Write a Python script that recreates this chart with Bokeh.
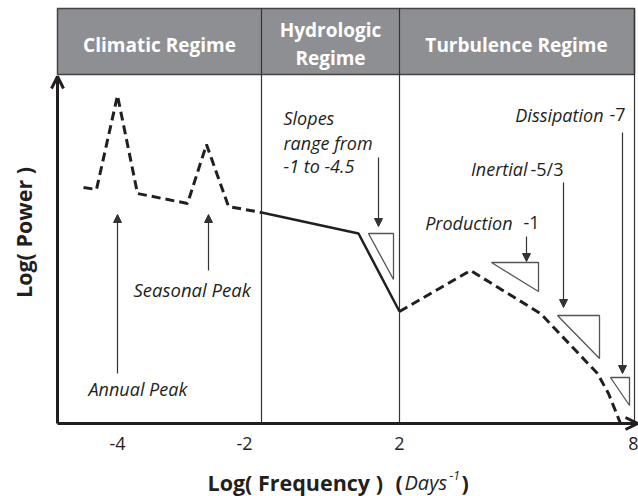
from math import pi
from bokeh.plotting import figure
from bokeh.models import Range1d, FixedTicker, Label, Arrow, OpenHead, NormalHead
from bokeh.embed import file_html
from bokeh.resources import INLINE

# Schematic coordinates: x = position along the log-frequency axis, y = log power above the axis
tick_pos = [60, 187, 342, 576]
tick_labels = ["-4", "-2", "2", "8"]

divider_x = [204, 342, 577]
top_y = 415
header_bottom = 349

regime_names = ["Climatic Regime", "Hydrologic", "Regime", "Turbulence Regime"]
regime_x = [102, 273, 273, 459]
regime_y = [379, 394, 366, 379]

climatic_x = [26, 39, 60, 80, 130, 149, 171, 204]
climatic_y = [236, 234, 328, 230, 220, 279, 217, 211]
hydro_x = [204, 301, 342]
hydro_y = [211, 190, 112]
turb_x = [342, 413, 483, 540, 551, 563]
turb_y = [112, 153, 110, 50, 30, 0]

tri_x = [[311, 336, 336], [434, 481, 481], [500, 542, 542], [553, 572, 572]]
tri_y = [[190, 190, 144], [161, 161, 132], [108, 108, 65], [46, 46, 18]]

# annotation arrows: x, y_start, y_end
ann_x = [60, 151, 321, 469, 506, 565]
ann_y0 = [50, 153, 266, 187, 241, 291]
ann_y1 = [209, 209, 197, 162, 116, 50]

INK = "#231f20"
FONT = "Open Sans"

p = figure(width=638, height=496, output_backend="svg", toolbar_location=None,
           x_range=Range1d(-57, 581), y_range=Range1d(-73, 423),
           min_border_left=0, min_border_right=0, min_border_top=0, min_border_bottom=0)
p.outline_line_color = None
p.grid.visible = False
p.yaxis.visible = False
p.background_fill_color = "white"

xa = p.xaxis[0]
xa.fixed_location = 0
xa.ticker = FixedTicker(ticks=tick_pos)
xa.major_label_overrides = {t: l for t, l in zip(tick_pos, tick_labels)}
xa.axis_line_color = None
xa.major_tick_line_color = None
xa.minor_tick_line_color = None
xa.major_label_standoff = 7
xa.major_label_text_font = FONT
xa.major_label_text_font_size = "18px"
xa.major_label_text_color = INK

# header band
p.quad(left=[0], right=[divider_x[-1]], top=[top_y], bottom=[header_bottom],
       fill_color="#8e8f92", line_color="#444444", line_width=1.5)

# dividers and right border
p.segment(x0=divider_x, y0=[0] * 3, x1=divider_x, y1=[top_y] * 3, line_color="#333333", line_width=1.2)

for name, x, y in zip(regime_names, regime_x, regime_y):
    p.add_layout(Label(x=x, y=y, text=name, text_font=FONT, text_font_style="bold",
                       text_font_size="19px", text_color="white", text_align="center",
                       text_baseline="middle"))

# spectrum curve
p.line(climatic_x, climatic_y, line_color=INK, line_width=3, line_dash="9 5")
p.line(hydro_x, hydro_y, line_color=INK, line_width=2.5)
p.line(turb_x, turb_y, line_color=INK, line_width=3, line_dash="9 5")

# slope triangles
p.patches(tri_x, tri_y, fill_color=None, line_color="#555555", line_width=1.3)

# annotation arrows
for x, y0, y1 in zip(ann_x, ann_y0, ann_y1):
    p.add_layout(Arrow(x_start=x, y_start=y0, x_end=x, y_end=y1, line_color="#333333", line_width=1.2,
                       end=NormalHead(size=8, fill_color="#333333", line_color="#333333")))

# axes arrows
p.add_layout(Arrow(x_start=0, y_start=0, x_end=580, y_end=0, line_color=INK, line_width=3,
                   end=OpenHead(size=12, line_color=INK, line_width=3)))
p.add_layout(Arrow(x_start=0, y_start=0, x_end=0, y_end=347, line_color=INK, line_width=3,
                   end=OpenHead(size=12, line_color=INK, line_width=3)))

def lab(x, y, text, style="italic", size="18px", align="left", baseline="middle", angle=0.0):
    p.add_layout(Label(x=x, y=y, text=text, text_font=FONT, text_font_style=style,
                       text_font_size=size, text_color=INK, text_align=align,
                       text_baseline=baseline, angle=angle))

lab(31, 35, "Annual Peak")
lab(76, 134, "Seasonal Peak", size="18.5px")
lab(226, 306, "Slopes")
lab(226, 281, "range from")
lab(226, 258, "-1 to -4.5")
lab(455, 201, "Production", align="right")
lab(466, 201, "-1", style="normal")
lab(470, 255, "Inertial", align="right")
lab(473, 255, "-5/3", style="normal")
lab(546, 309, "Dissipation", align="right")
lab(552, 309, "-7", style="normal")

# axis titles
lab(-34, 191, "Log( Power )", style="bold", size="21.5px", align="center", angle=pi / 2)
lab(150, -59, "Log( Frequency )", style="bold", size="21.5px")
lab(338, -59, "(", style="bold", size="21.5px")
lab(347, -59, "Days", style="italic", size="20px")
lab(392, -52, "-1", style="italic", size="12px")
lab(404, -59, ")", style="bold", size="21.5px")

open("out.html", "w").write(file_html(p, INLINE))
